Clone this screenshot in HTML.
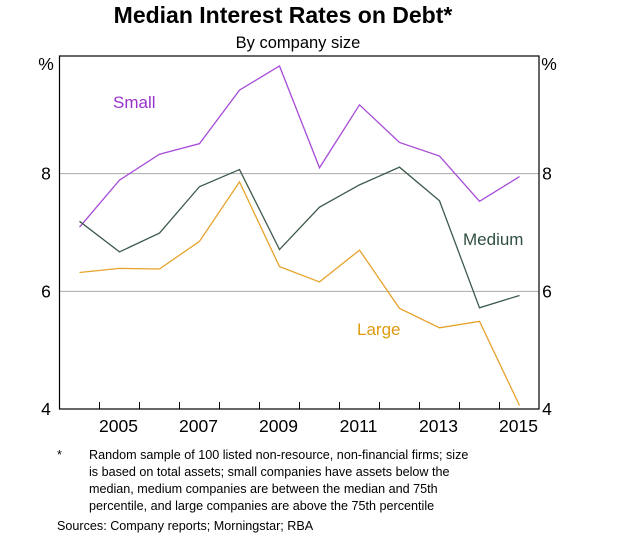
<!DOCTYPE html>
<html><head><meta charset="utf-8"><style>
body{margin:0;background:#fff;width:619px;height:539px;overflow:hidden;font-family:"Liberation Sans",Arial,sans-serif;}
svg{display:block}
</style></head><body>
<svg id="c" width="619" height="539" xmlns="http://www.w3.org/2000/svg" font-family="Liberation Sans, Arial, sans-serif">
<text x="283" y="23" text-anchor="middle" font-size="23" font-weight="bold">Median Interest Rates on Debt*</text>
<text x="298" y="48" text-anchor="middle" font-size="16.5">By company size</text>
<g id="grid"></g>
<g id="series"></g>
<rect x="59.5" y="56" width="479.5" height="353" fill="none" stroke="#000" stroke-width="1.2"/>
<g id="axes" font-size="17.5"></g>
<text x="113" y="108" font-size="17" fill="#9933cc">Small</text>
<text x="463" y="245" font-size="17" fill="#2f4f3f">Medium</text>
<text x="357" y="335" font-size="17" fill="#e09a10">Large</text>
<g font-size="12.6">
<text x="57" y="459">*</text>
<text x="89" y="459">Random sample of 100 listed non-resource, non-financial firms; size</text>
<text x="89" y="476">is based on total assets; small companies have assets below the</text>
<text x="89" y="493">median, medium companies are between the median and 75th</text>
<text x="89" y="510">percentile, and large companies are above the 75th percentile</text>
</g>
<text x="57" y="530" font-size="12.6">Sources:   Company reports; Morningstar; RBA</text>
</svg>
<script>
const years=[2004,2005,2006,2007,2008,2009,2010,2011,2012,2013,2014,2015];
const small=[7.09,7.89,8.33,8.51,9.42,9.83,8.10,9.17,8.53,8.30,7.53,7.95];
const medium=[7.19,6.67,6.99,7.78,8.07,6.71,7.43,7.81,8.11,7.54,5.72,5.93];
const large=[6.32,6.39,6.38,6.85,7.86,6.42,6.16,6.70,5.71,5.38,5.49,4.06];
const yTicks=[4,6,8];
const xLabels=[2005,2007,2009,2011,2013,2015];
const NS="http://www.w3.org/2000/svg";
const L=59.5,R=539,T=56,B=409;
function x(yr){return L+20+(yr-2004)*40;}
function y(v){return B-(v-4)*(B-T)/6;}
function mk(t,a,p){const e=document.createElementNS(NS,t);for(const k in a)e.setAttribute(k,a[k]);p.appendChild(e);return e;}
const grid=document.getElementById('grid'),ax=document.getElementById('axes'),se=document.getElementById('series');
yTicks.forEach(v=>{
 if(v>4&&v<10){const g=mk('line',{x1:L,x2:R,y1:y(v),y2:y(v),stroke:'#aaa','stroke-width':1},grid);
 
 }
 const t1=mk('text',{x:46,y:y(v)+6,'text-anchor':'middle'},ax);t1.textContent=v;
 
 
 const t2=mk('text',{x:547,y:y(v)+6,'text-anchor':'middle'},ax);t2.textContent=v;
 
 
});
[[46,'y-unit-left'],[549,'y-unit-right']].forEach(([px,n])=>{const t=mk('text',{x:px,y:70,'text-anchor':'middle'},ax);t.textContent='%';
 
 });
for(let i=1;i<years.length;i++){const xx=x(years[i])-20;
 const tk=mk('line',{x1:xx,x2:xx,y1:B,y2:B-7,stroke:'#000','stroke-width':1},ax);
 
 }
xLabels.forEach(yr=>{const t=mk('text',{x:x(yr)-1,y:432,'text-anchor':'middle'},ax);t.textContent=yr;
 
 });
[[small,'#a64bd8','line-small'],[medium,'#3d5a4a','line-medium'],[large,'#e6a22a','line-large']].forEach(([d,c,n])=>{
 const p=mk('polyline',{points:d.map((v,i)=>x(years[i])+','+y(v)).join(' '),fill:'none',stroke:c,'stroke-width':1.3},se);
 
 
});
</script>
</body></html>
